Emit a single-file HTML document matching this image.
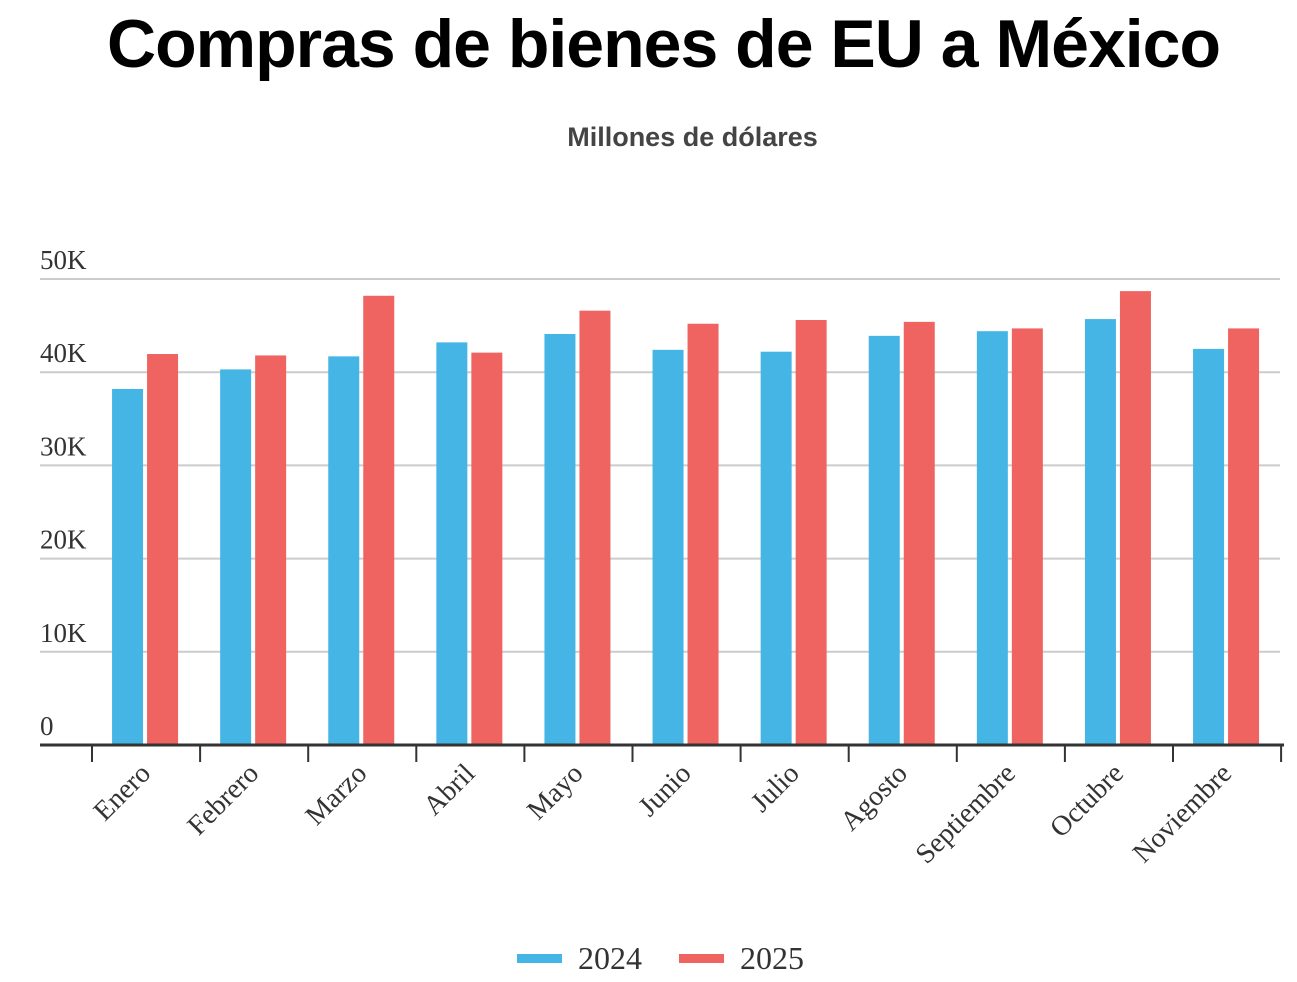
<!DOCTYPE html>
<html><head><meta charset="utf-8"><style>
body{margin:0;background:#fff;width:1297px;height:982px;overflow:hidden}
#title{position:absolute;left:15px;width:1297px;top:5px;text-align:center;font:bold 68px "Liberation Sans",sans-serif;color:#000;letter-spacing:-1px}
#sub{position:absolute;left:0;width:1385px;top:122px;text-align:center;font:bold 27px "Liberation Sans",sans-serif;color:#444}
svg{position:absolute;left:0;top:0}
</style></head><body>
<div id="title">Compras de bienes de EU a México</div>
<div id="sub">Millones de dólares</div>
<svg id="chart" width="1297" height="982"></svg>
<script>
const categories=["Enero","Febrero","Marzo","Abril","Mayo","Junio","Julio","Agosto","Septiembre","Octubre","Noviembre"];
const values2024=[38.2,40.3,41.7,43.2,44.1,42.4,42.2,43.9,44.4,45.7,42.5];
const values2025=[41.95,41.8,48.2,42.1,46.6,45.2,45.6,45.4,44.7,48.7,44.7];
const yTicks=[0,10,20,30,40,50];
const yTickLabels=["0","10K","20K","30K","40K","50K"];
const NS="http://www.w3.org/2000/svg";
const svg=document.getElementById('chart');
const y0=745,yTop=279,x0=92,band=108.1;
const y=v=>y0-(v/50)*(y0-yTop);
const bx=i=>x0+i*band;
function mk(t,a,txt){const e=document.createElementNS(NS,t);for(const k in a)e.setAttribute(k,a[k]);if(txt!=null)e.textContent=txt;svg.appendChild(e);return e;}
yTicks.forEach((t,i)=>{
 if(t>0){const g=mk('line',{x1:40,x2:1280,y1:y(t),y2:y(t),stroke:'#ccc','stroke-width':2});
 
 }
 const l=mk('text',{x:40,y:y(t)-10,'font-family':'Liberation Serif,serif','font-size':27,fill:'#333'},yTickLabels[i]);
 
 
});
categories.forEach((c,i)=>{
 const cx=bx(i)+band/2;
 const r1=mk('rect',{x:cx-34,y:y(values2024[i]),width:31,height:y0-y(values2024[i]),fill:'#45b5e6'});
 
 
 const r2=mk('rect',{x:cx+1,y:y(values2025[i]),width:31,height:y0-y(values2025[i]),fill:'#ef6461'});
 
 
 const lx=cx+6,ly=775;
 const t=mk('text',{x:lx,y:ly,'text-anchor':'end','font-family':'Liberation Serif,serif','font-size':28,fill:'#333',transform:`rotate(-45 ${lx} ${ly})`},c);
 
 
});
for(let i=0;i<=categories.length;i++){
 const tk=mk('line',{x1:bx(i),x2:bx(i),y1:745,y2:762,stroke:'#333','stroke-width':2});
 
 
}
const ax=mk('line',{x1:40,x2:1284,y1:745,y2:745,stroke:'#333','stroke-width':3});


const s1=mk('rect',{x:517,y:954,width:45,height:9,fill:'#45b5e6'});


const t1=mk('text',{x:578,y:969,'font-family':'Liberation Serif,serif','font-size':32,fill:'#333'},'2024');


const s2=mk('rect',{x:679,y:954,width:45,height:9,fill:'#ef6461'});


const t2=mk('text',{x:740,y:969,'font-family':'Liberation Serif,serif','font-size':32,fill:'#333'},'2025');


</script>
</body></html>
